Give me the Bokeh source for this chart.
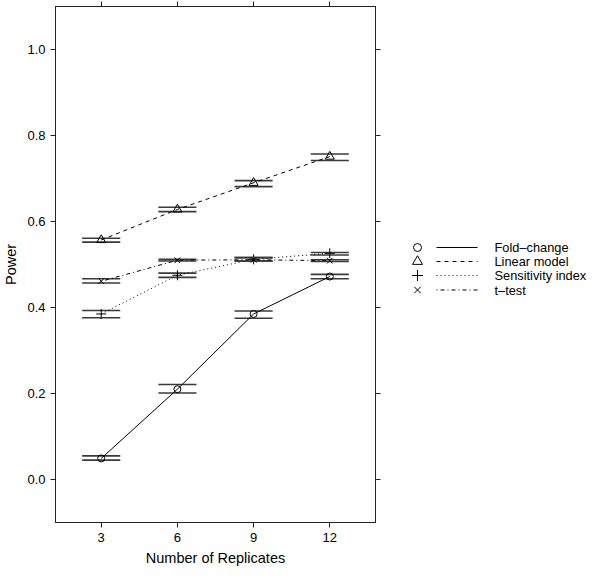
from bokeh.plotting import figure
from bokeh.models import Range1d, LinearAxis, FixedTicker, PrintfTickFormatter
from bokeh.layouts import row
from bokeh.embed import file_html
from bokeh.resources import INLINE
from bokeh.core.properties import value

# ---- data ----
replicates = [3, 6, 9, 12]
series_names = ["Fold–change", "Linear model", "Sensitivity index", "t–test"]

fold_power = [0.049, 0.210, 0.385, 0.472]
fold_lower = [0.045, 0.201, 0.375, 0.467]
fold_upper = [0.055, 0.221, 0.392, 0.477]

linear_power = [0.557, 0.628, 0.690, 0.751]
linear_lower = [0.552, 0.623, 0.681, 0.742]
linear_upper = [0.561, 0.633, 0.695, 0.757]

sens_power = [0.385, 0.475, 0.512, 0.526]
sens_lower = [0.376, 0.470, 0.508, 0.522]
sens_upper = [0.393, 0.480, 0.516, 0.528]

ttest_power = [0.461, 0.510, 0.511, 0.509]
ttest_lower = [0.457, 0.508, 0.508, 0.507]
ttest_upper = [0.467, 0.512, 0.516, 0.511]

y_ticks = [0.0, 0.2, 0.4, 0.6, 0.8, 1.0]
x_ticks = [3, 6, 9, 12]

FONT = "Liberation Sans"

# ---- main plot ----
p = figure(frame_width=320, frame_height=516, x_range=Range1d(1.2, 13.8), y_range=Range1d(-0.1, 1.1),
           output_backend="svg", toolbar_location=None,
           min_border_left=55, min_border_right=8, min_border_top=6, min_border_bottom=46,
           x_axis_label="Number of Replicates", y_axis_label="Power")
p.grid.visible = False
p.outline_line_color = "black"
p.outline_line_width = 1
p.background_fill_color = "white"
p.border_fill_color = "white"

p.xaxis.ticker = FixedTicker(ticks=x_ticks)
p.yaxis.ticker = FixedTicker(ticks=y_ticks)
p.yaxis.formatter = PrintfTickFormatter(format="%.1f")

for ax in list(p.xaxis) + list(p.yaxis):
    ax.major_tick_in = 0
    ax.major_tick_out = 5
    ax.minor_tick_line_color = None
    ax.major_tick_line_color = "#222222"
    ax.axis_line_color = "#222222"
    ax.major_label_text_font = FONT
    ax.major_label_text_font_size = "13px"
    ax.major_label_text_color = "black"
    ax.major_label_standoff = 5
    ax.axis_label_text_font = FONT
    ax.axis_label_text_font_size = "14.5px"
    ax.axis_label_text_font_style = "normal"
    ax.axis_label_text_color = "black"

p.xaxis.axis_label_standoff = 5
p.yaxis.axis_label_standoff = 5

# mirrored ticks on top and right, without labels
def mirror_axis(ticks):
    return LinearAxis(ticker=FixedTicker(ticks=ticks),
                      major_label_overrides={t: "" for t in ticks},
                      major_label_text_font_size="1px",
                      major_label_standoff=0, major_tick_in=0, major_tick_out=5,
                      minor_tick_line_color=None, major_tick_line_color="#222222",
                      axis_line_color="#222222")

p.add_layout(mirror_axis(x_ticks), "above")
p.add_layout(mirror_axis(y_ticks), "right")

half = 0.75
series = [
    (fold_power, fold_lower, fold_upper, "solid", "circle", 7),
    (linear_power, linear_lower, linear_upper, "4 4", "triangle", 9),
    (sens_power, sens_lower, sens_upper, "1 3", "cross", 10),
    (ttest_power, ttest_lower, ttest_upper, "1 3 4 3", "x", 8),
]

for power, lower, upper, dash, marker, size in series:
    x0 = [x - half for x in replicates]
    x1 = [x + half for x in replicates]
    p.segment(x0=x0, x1=x1, y0=lower, y1=lower, line_color="#3a3a3a", line_width=1.6)
    p.segment(x0=x0, x1=x1, y0=upper, y1=upper, line_color="#3a3a3a", line_width=1.6)
    p.line(replicates, power, line_color="black", line_width=1, line_dash=dash)
    p.scatter(replicates, power, marker=marker, size=size, fill_color=None,
              line_color="black", line_width=1)

# ---- legend panel (pixel-like coordinates) ----
LG_W, LG_H = 209, 568
lg = figure(frame_width=LG_W, frame_height=LG_H, x_range=Range1d(0, LG_W), y_range=Range1d(LG_H, 0),
            output_backend="svg", toolbar_location=None, x_axis_type=None, y_axis_type=None,
            min_border=0)
lg.grid.visible = False
lg.outline_line_color = None

row_y = [241, 255, 269, 283.5]
for i, (name, s) in enumerate(zip(series_names, series)):
    _, _, _, dash, marker, size = s
    y = row_y[i]
    lg.scatter([34], [y], marker=marker, size=size + 1, fill_color=None, line_color="black", line_width=1)
    lg.line([53, 94], [y, y], line_color="black", line_width=1, line_dash=dash)
    lg.text([111], [y], text=[name], text_font=value(FONT), text_font_size="12.8px",
            text_baseline="middle", text_align="left", text_color="black")

layout = row(p, lg)
open("out.html", "w").write(file_html(layout, INLINE))
